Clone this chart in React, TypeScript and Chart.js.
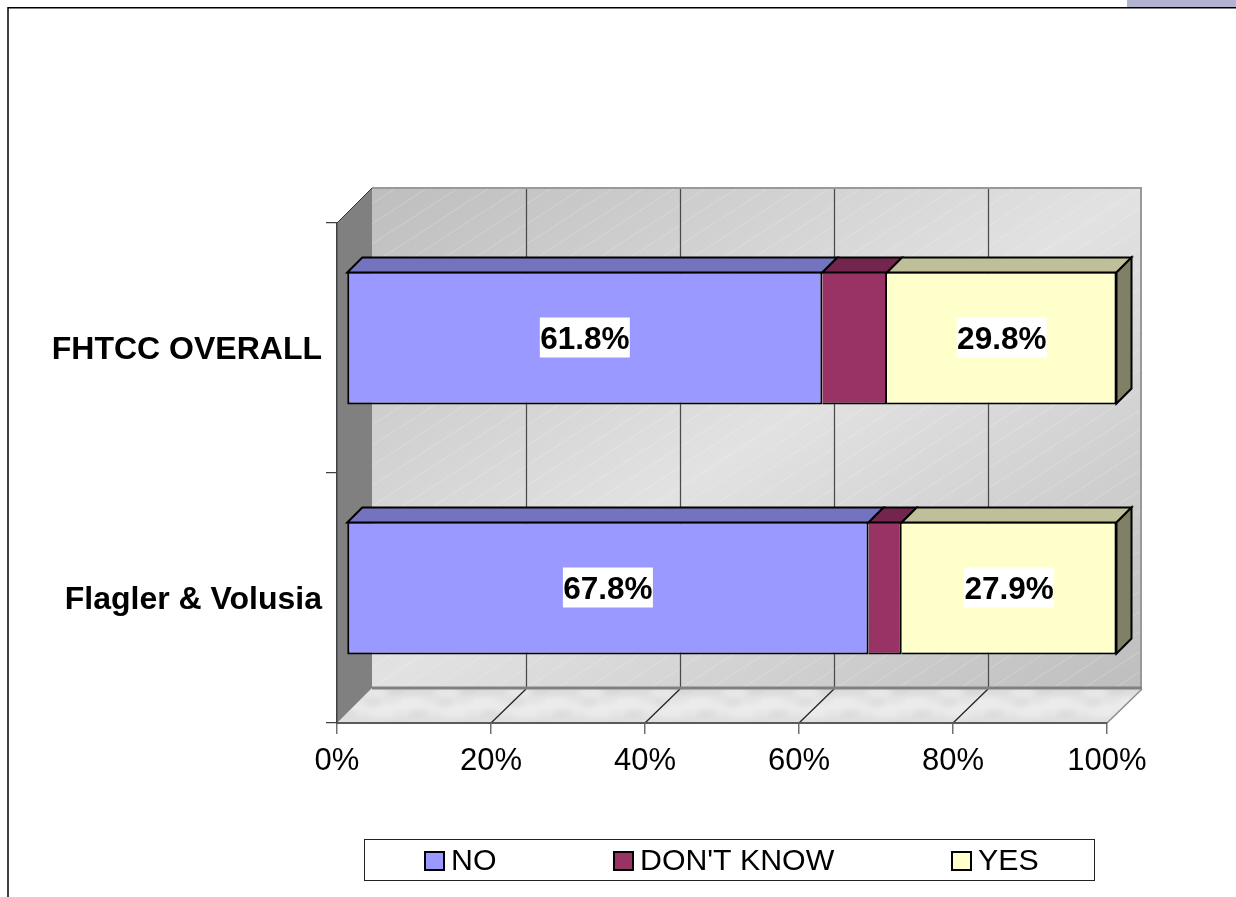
import React, { useEffect, useRef } from "react";
import { Chart, registerables } from "chart.js";

Chart.register(...registerables);

const categories = ["FHTCC OVERALL", "Flagler & Volusia"];
const seriesNames = ["NO", "DON'T KNOW", "YES"];
const noValues = [61.8, 67.8];
const dontKnowValues = [8.4, 4.3];
const yesValues = [29.8, 27.9];
const frontColors = ["#9999FF", "#993366", "#FFFFCC"];
const topColors = ["#7373BF", "#73264D", "#BFBF99"];
const sideColor = "#808066";
const labelledSeries = [0, 2];
const xTicks = [0, 20, 40, 60, 80, 100];
const legendSwatchX = [424, 613, 951];

const FONT = '"Liberation Sans", Arial, sans-serif';
const DEPTH = 35;
const BAR_DX = 9.5;
const BAR_DY = -10;
const BAR_DEPTH = 15;

const stage = {
  id: "stage3d",
  beforeDraw(chart: any) {
    const ctx = chart.ctx;
    const { left, right, top, bottom } = chart.chartArea;
    const x = chart.scales.x;
    ctx.save();
    ctx.fillStyle = "#fff";
    ctx.fillRect(0, 0, chart.width, chart.height);
    // slide frame
    ctx.fillStyle = "#B2B2D1";
    ctx.fillRect(1127, 0, 109, 7);
    ctx.strokeStyle = "#000";
    ctx.lineWidth = 1.5;
    ctx.beginPath();
    ctx.moveTo(8, 897);
    ctx.lineTo(8, 7.75);
    ctx.lineTo(1236, 7.75);
    ctx.stroke();

    // back wall: gradient with equal shade on the two off-diagonal corners
    const wx0 = left + DEPTH, wx1 = right + DEPTH, wy0 = top - DEPTH, wy1 = bottom - DEPTH;
    const W = wx1 - wx0, H = wy1 - wy0;
    const k = (W * H) / (W * W + H * H);
    const cx = (wx0 + wx1) / 2, cy = (wy0 + wy1) / 2;
    const g = ctx.createLinearGradient(cx - H * k, cy - W * k, cx + H * k, cy + W * k);
    g.addColorStop(0, "#BEBEBE");
    g.addColorStop(0.5, "#E2E2E2");
    g.addColorStop(1, "#BEBEBE");
    ctx.fillStyle = g;
    ctx.fillRect(wx0, wy0, W, H);
    ctx.save();
    ctx.beginPath();
    ctx.rect(wx0, wy0, W, H);
    ctx.clip();
    ctx.strokeStyle = "rgba(255,255,255,0.22)";
    ctx.lineWidth = 1;
    ctx.beginPath();
    for (let i = wx0 - 900; i < wx1; i += 31) {
      ctx.moveTo(i, wy1);
      ctx.lineTo(i + 800, wy1 - 520);
    }
    ctx.stroke();
    ctx.restore();

    // floor
    ctx.save();
    ctx.beginPath();
    ctx.moveTo(left, bottom);
    ctx.lineTo(right, bottom);
    ctx.lineTo(wx1, wy1);
    ctx.lineTo(wx0, wy1);
    ctx.closePath();
    ctx.clip();
    const fg = ctx.createLinearGradient(0, wy1, 0, bottom);
    fg.addColorStop(0, "#D9D9D9");
    fg.addColorStop(0.55, "#EBEBEB");
    fg.addColorStop(1, "#DDDDDD");
    ctx.fillStyle = fg;
    ctx.fillRect(left, wy1, wx1 - left, DEPTH);
    const tile = document.createElement("canvas");
    tile.width = 72;
    tile.height = 36;
    const t = tile.getContext("2d") as CanvasRenderingContext2D;
    t.filter = "blur(3px)";
    t.fillStyle = "rgba(244,244,244,0.6)";
    t.fillRect(4, 4, 22, 8);
    t.fillRect(40, 14, 24, 7);
    t.fillRect(10, 26, 24, 6);
    t.fillStyle = "rgba(208,208,208,0.6)";
    t.fillRect(30, 3, 14, 6);
    t.fillRect(6, 16, 14, 6);
    t.fillRect(50, 27, 16, 6);
    ctx.fillStyle = ctx.createPattern(tile, "repeat");
    ctx.fillRect(left, wy1, wx1 - left, DEPTH);
    ctx.restore();

    // left wall
    ctx.fillStyle = "#808080";
    ctx.beginPath();
    ctx.moveTo(left, top);
    ctx.lineTo(wx0, wy0);
    ctx.lineTo(wx0, wy1);
    ctx.lineTo(left, bottom);
    ctx.closePath();
    ctx.fill();

    // grid on wall and floor
    for (const v of xTicks) {
      const px = x.getPixelForValue(v);
      if (v > 0 && v < 100) {
        ctx.strokeStyle = "#4A4A4A";
        ctx.lineWidth = 1.25;
        ctx.beginPath();
        ctx.moveTo(px + DEPTH + 0.5, wy0);
        ctx.lineTo(px + DEPTH + 0.5, wy1);
        ctx.stroke();
      }
      if (v > 0) {
        ctx.strokeStyle = v === 100 ? "#8C8C8C" : "#222";
        ctx.lineWidth = v === 100 ? 1.5 : 1.25;
        ctx.beginPath();
        ctx.moveTo(px, bottom);
        ctx.lineTo(px + DEPTH, wy1 + 1);
        ctx.stroke();
      }
    }
    // wall edges
    ctx.strokeStyle = "#999";
    ctx.lineWidth = 2;
    ctx.beginPath();
    ctx.moveTo(wx0, wy0);
    ctx.lineTo(wx1 - 1, wy0);
    ctx.lineTo(wx1 - 1, wy1);
    ctx.stroke();
    ctx.strokeStyle = "#808080";
    ctx.lineWidth = 3;
    ctx.beginPath();
    ctx.moveTo(wx0, wy1);
    ctx.lineTo(wx1, wy1);
    ctx.stroke();
    ctx.strokeStyle = "#333";
    ctx.lineWidth = 1;
    ctx.beginPath();
    ctx.moveTo(left, top);
    ctx.lineTo(wx0, wy0);
    ctx.stroke();
    ctx.restore();
  },
  beforeDatasetsDraw(chart: any) {
    chart.ctx.save();
    chart.ctx.translate(BAR_DX, BAR_DY);
  },
  afterDatasetsDraw(chart: any) {
    const ctx = chart.ctx;
    ctx.lineJoin = "miter";
    ctx.strokeStyle = "#000";
    ctx.lineWidth = 2;
    chart.data.datasets.forEach((_: any, di: number) => {
      chart.getDatasetMeta(di).data.forEach((el: any) => {
        const { x, base, y, height } = el.getProps(["x", "base", "y", "height"], true);
        const t = y - height / 2 + 1;
        const b = y + height / 2 - 1;
        ctx.fillStyle = topColors[di];
        ctx.beginPath();
        ctx.moveTo(base, t);
        ctx.lineTo(base + BAR_DEPTH, t - BAR_DEPTH);
        ctx.lineTo(x + BAR_DEPTH, t - BAR_DEPTH);
        ctx.lineTo(x, t);
        ctx.closePath();
        ctx.fill();
        ctx.stroke();
        if (di === chart.data.datasets.length - 1) {
          ctx.fillStyle = sideColor;
          ctx.beginPath();
          ctx.moveTo(x, t);
          ctx.lineTo(x + BAR_DEPTH, t - BAR_DEPTH);
          ctx.lineTo(x + BAR_DEPTH, b - BAR_DEPTH);
          ctx.lineTo(x, b);
          ctx.closePath();
          ctx.fill();
          ctx.stroke();
        }
      });
    });
    // data labels
    ctx.font = `bold 31.5px ${FONT}`;
    ctx.textAlign = "center";
    ctx.textBaseline = "middle";
    for (const di of labelledSeries) {
      chart.getDatasetMeta(di).data.forEach((el: any, i: number) => {
        const { x, base, y } = el.getProps(["x", "base", "y"], true);
        const cx = (x + base) / 2;
        const text = chart.data.datasets[di].data[i].toFixed(1) + "%";
        ctx.fillStyle = "#fff";
        ctx.fillRect(cx - 45, y - 20.5, 90, 40);
        ctx.fillStyle = "#000";
        ctx.fillText(text, cx, y + 2.5);
      });
    }
    ctx.restore();
  },
  afterDraw(chart: any) {
    const ctx = chart.ctx;
    ctx.save();
    ctx.fillStyle = "#fff";
    ctx.fillRect(364, 839, 731, 42);
    ctx.strokeStyle = "#222";
    ctx.lineWidth = 1;
    ctx.strokeRect(364.5, 839.5, 730, 41);
    ctx.font = `30.3px ${FONT}`;
    ctx.textAlign = "left";
    ctx.textBaseline = "middle";
    seriesNames.forEach((name, i) => {
      const sx = legendSwatchX[i];
      ctx.fillStyle = frontColors[i];
      ctx.fillRect(sx + 1, 851, 19, 20);
      ctx.strokeStyle = "#000";
      ctx.lineWidth = 2;
      ctx.strokeRect(sx + 1, 852, 19, 18);
      ctx.fillStyle = "#000";
      ctx.fillText(name, sx + 27, 862);
    });
    ctx.restore();
  },
};

export default function App() {
  const ref = useRef<HTMLCanvasElement>(null);
  useEffect(() => {
    const edge = (first: boolean) => ({ top: 2, bottom: 2, right: 2, left: first ? 2 : 0 });
    const chart = new Chart(ref.current as HTMLCanvasElement, {
      type: "bar",
      data: {
        labels: categories,
        datasets: [noValues, dontKnowValues, yesValues].map((data, i) => ({
          label: seriesNames[i],
          data,
          backgroundColor: frontColors[i],
          borderColor: "#000",
          borderWidth: edge(i === 0),
          borderSkipped: false,
          barPercentage: 0.665,
          categoryPercentage: 0.8,
        })),
      },
      plugins: [stage],
      options: {
        indexAxis: "y",
        animation: false,
        responsive: false,
        layout: { padding: { left: 0, right: 129, top: 223, bottom: 114 } },
        plugins: { legend: { display: false }, title: { display: false }, tooltip: { enabled: false } },
        scales: {
          x: {
            stacked: true,
            min: 0,
            max: 100,
            afterFit: (s: any) => { s.height = 60; },
            afterBuildTicks: (s: any) => { s.ticks = xTicks.map((value) => ({ value })); },
            ticks: {
              callback: (v: any) => v + "%",
              color: "#000",
              font: { family: FONT, size: 31 },
              padding: 9,
              maxRotation: 0,
              autoSkip: false,
            },
            grid: { drawOnChartArea: false, drawTicks: true, tickLength: 11, color: "#707070", lineWidth: 1.5 },
            border: { display: true, color: "#5A5A5A", width: 2 },
          },
          y: {
            stacked: true,
            afterFit: (s: any) => { s.width = 337; },
            ticks: {
              color: "#000",
              font: { family: FONT, size: 32, weight: "bold" },
              padding: 4,
              labelOffset: 2,
              autoSkip: false,
            },
            grid: { drawOnChartArea: false, drawTicks: true, tickLength: 11, offset: true, color: "#404040", lineWidth: 1.25 },
            border: { display: true, color: "#404040", width: 1.5 },
          },
        },
      } as any,
    });
    return () => chart.destroy();
  }, []);
  return (
    <canvas
      ref={ref}
      width={1236}
      height={897}
      style={{ position: "absolute", left: 0, top: 0, display: "block", width: 1236, height: 897 }}
    />
  );
}
